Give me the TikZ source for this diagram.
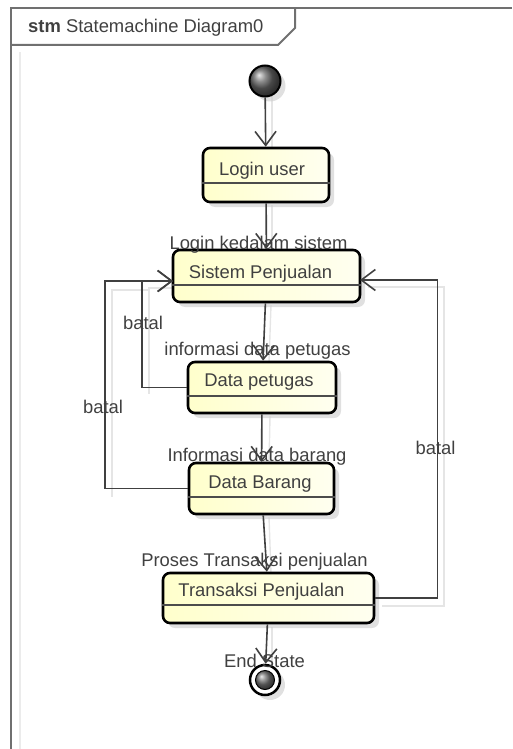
\documentclass[tikz,border=0pt]{standalone}
\usepackage{fontspec}
\setmainfont{Liberation Sans}
\usetikzlibrary{arrows.meta,shadows}
\definecolor{txt}{HTML}{404040}
\definecolor{boxfillA}{HTML}{FFFFCC}
\definecolor{boxfillB}{HTML}{FFFFF0}
\definecolor{framecol}{HTML}{707070}
\begin{document}
\begin{tikzpicture}[x=1pt,y=-1pt,
  every node/.style={font=\fontsize{18.4}{22}\selectfont, text=txt, inner sep=0pt},
  statebox/.style={draw=black, line width=2.6pt, rounded corners=7pt,
    left color=boxfillA, right color=boxfillB,
    drop shadow={shadow xshift=5pt, shadow yshift=-5pt, fill=black!20, opacity=0.6}},
  divider/.style={draw=black!70, line width=1.4pt},
  conn/.style={draw=black!75, line width=1.6pt, -{Straight Barb[length=14pt,width=21pt]}},
  ghost/.style={draw=black!10, line width=1.4pt},
  lbl/.style={anchor=base},
  framestyle/.style={draw=framecol, line width=2pt}
]
\useasboundingbox (0,0) rectangle (512,749);
% frame
\draw[framestyle] (11,749) -- (11,8) -- (512,8);
\draw[framestyle] (11,45) -- (278,45) -- (295,28) -- (295,8);
\draw[draw=black!8, line width=1.2pt] (20,749) -- (20,52);
\node[anchor=base west] (title) at (28,33) {\textbf{stm} Statemachine Diagram0};

% coordinates on Sistem Penjualan sides
\coordinate (spL) at (173,281);
\coordinate (spR) at (360,280);

% faint ghost copies of the connectors
\draw[ghost] (149,394) -- (149,288) -- (180,288);
\draw[ghost] (112,497) -- (112,290) -- (149,290);
\draw[ghost] (382,606) -- (444,606) -- (444,287) -- (368,287);
\draw[ghost] (272,96) -- (272,150);
\draw[ghost] (272,205) -- (272,252);
\draw[ghost] (271,305) -- (269,362);
\draw[ghost] (270,416) -- (269,464);
\draw[ghost] (269,517) -- (271,574);
\draw[ghost] (272,627) -- (272,668);

% initial state
\node[circle, minimum size=31pt, draw=black, line width=2pt, shading=ball, ball color=black!60,
  drop shadow={shadow xshift=5pt, shadow yshift=-5pt, fill=black!20, opacity=0.6}] (init) at (265,81) {};

% states
\node[statebox, minimum width=126pt, minimum height=54pt] (lu) at (266,175) {};
\draw[divider] ([yshift=-8pt]lu.west) -- ([yshift=-8pt]lu.east);
\node[lbl] (lut) at (262,175) {Login user};

\node[statebox, minimum width=187pt, minimum height=52pt] (sp) at (266.5,276) {};
\draw[divider] ([yshift=-9pt]sp.west) -- ([yshift=-9pt]sp.east);
\node[lbl] (spt) at (260.5,278) {Sistem Penjualan};

\node[statebox, minimum width=148pt, minimum height=51pt] (dp) at (262,387.5) {};
\draw[divider] ([yshift=-8.5pt]dp.west) -- ([yshift=-8.5pt]dp.east);
\node[lbl] (dpt) at (259,386) {Data petugas};

\node[statebox, minimum width=145pt, minimum height=51pt] (db) at (261.5,488.5) {};
\draw[divider] ([yshift=-8.5pt]db.west) -- ([yshift=-8.5pt]db.east);
\node[lbl] (dbt) at (260,488) {Data Barang};

\node[statebox, minimum width=211pt, minimum height=50pt] (tp) at (268.5,598) {};
\draw[divider] ([yshift=-7pt]tp.west) -- ([yshift=-7pt]tp.east);
\node[lbl] (tpt) at (261.5,596) {Transaksi Penjualan};

% final state
\node[circle, minimum size=30pt, draw=black, line width=2.5pt, fill=white,
  drop shadow={shadow xshift=5pt, shadow yshift=-5pt, fill=black!20, opacity=0.6}] (fin) at (265,680) {};
\node[circle, minimum size=19pt, draw=black, line width=1pt, shading=ball, ball color=black!55] (fincore) at (265,680) {};

% transitions
\draw[conn] (init) -- (lu);
\draw[conn] (lu) -- (sp);
\draw[conn] (sp) -- (dp);
\draw[conn] (dp) -- (db);
\draw[conn] (db) -- (tp);
\draw[conn] (tp) -- (fin);
\draw[conn] (dp.west) -- ++(-45,0) |- (spL);
\draw[conn] (db.west) -- ++(-83,0) |- (spL);
\draw[conn] (tp.east) -- ++(62,0) |- (spR);

% transition labels
\node[lbl] (l1) at (258.5,249) {Login kedalam sistem};
\node[lbl] (l2) at (257.5,355) {informasi data petugas};
\node[lbl] (l3) at (257,461) {Informasi data barang};
\node[lbl] (l4) at (254.5,566) {Proses Transaksi penjualan};
\node[lbl] (l5) at (264.5,667) {End State};
\node[lbl] (b1) at (143,329) {batal};
\node[lbl] (b2) at (103,413) {batal};
\node[lbl] (b3) at (435.5,454) {batal};
\end{tikzpicture}
\end{document}
